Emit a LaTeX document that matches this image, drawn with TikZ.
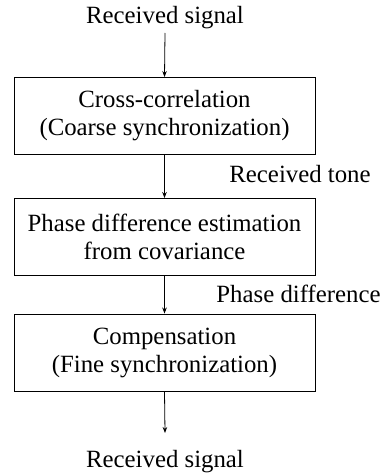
\documentclass[tikz,border=0pt]{standalone}
\usepackage{fontspec}
\setmainfont{Liberation Serif}
\usetikzlibrary{arrows.meta}
\begin{document}
\begin{tikzpicture}[x=1pt,y=-1pt,
  every node/.style={font=\fontsize{24.8}{28}\selectfont, inner sep=0pt},
  blk/.style={draw, line width=0.9pt, minimum width=301pt, minimum height=77pt, align=center},
  lbl/.style={anchor=base},
  arr/.style={draw, line width=0.8pt, -{Stealth[length=6pt,width=4.5pt]}}]
\useasboundingbox (0,0) rectangle (386,473);
\node[lbl] (tin) at (165,24) {Received signal};
\coordinate (cin) at (165,33);
\node[blk] (b1) at (164.5,116) {Cross-correlation\\(Coarse synchronization)};
\node[blk] (b2) at (164.5,237) {Phase difference estimation\\from covariance};
\node[blk] (b3) at (164.5,352.5) {Compensation\\(Fine synchronization)};
\node[lbl] (l1) at (300,182) {Received tone};
\node[lbl] (l2) at (298.5,302) {Phase difference};
\coordinate (cout) at (165,433);
\node[lbl] (tout) at (165,467) {Received signal};
\draw[arr] (cin) -- (b1.north);
\draw[arr] (b1.south) -- (b2.north);
\draw[arr] (b2.south) -- (b3.north);
\draw[arr] (b3.south) -- (cout);
\end{tikzpicture}
\end{document}
